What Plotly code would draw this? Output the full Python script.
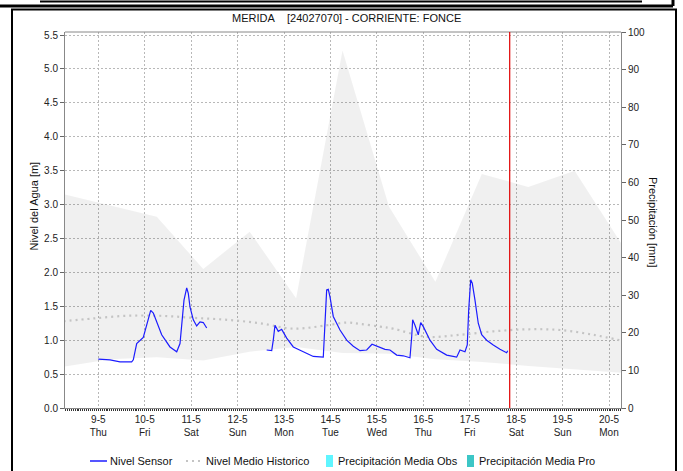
import plotly.graph_objects as go

# ---------------- data ----------------
chart_title = "MERIDA\u00a0\u00a0\u00a0\u00a0[24027070] - CORRIENTE: FONCE"

sensor_time = [
    "2019-05-09 00:00", "2019-05-09 06:03", "2019-05-09 11:13", "2019-05-09 17:15", "2019-05-09 18:05",
    "2019-05-09 19:51", "2019-05-09 23:15", "2019-05-10 01:19", "2019-05-10 03:05", "2019-05-10 04:26",
    "2019-05-10 08:46", "2019-05-10 13:03", "2019-05-10 16:32", "2019-05-10 18:14", "2019-05-10 20:18",
    "2019-05-10 21:42", "2019-05-10 22:31", "2019-05-10 23:24", "2019-05-11 01:06", "2019-05-11 02:51",
    "2019-05-11 04:34", "2019-05-11 06:16", "2019-05-11 08:02",
    "2019-05-12 00:00",
    "2019-05-12 15:02", "2019-05-12 17:38", "2019-05-12 18:27", "2019-05-12 19:20", "2019-05-12 21:02",
    "2019-05-12 22:48", "2019-05-13 01:23", "2019-05-13 04:48", "2019-05-13 09:58", "2019-05-13 15:08",
    "2019-05-13 20:18", "2019-05-13 21:11", "2019-05-13 22:03", "2019-05-13 22:53", "2019-05-13 23:46",
    "2019-05-14 01:28", "2019-05-14 04:56", "2019-05-14 08:24", "2019-05-14 11:48", "2019-05-14 15:16",
    "2019-05-14 18:44", "2019-05-14 21:29", "2019-05-15 01:36", "2019-05-15 04:12", "2019-05-15 06:46",
    "2019-05-15 10:15", "2019-05-15 13:39", "2019-05-15 17:07", "2019-05-15 18:00", "2019-05-15 18:30",
    "2019-05-15 19:42", "2019-05-15 21:24", "2019-05-15 22:39", "2019-05-16 00:00", "2019-05-16 03:27",
    "2019-05-16 06:55", "2019-05-16 12:06", "2019-05-16 17:15", "2019-05-16 18:58", "2019-05-16 21:33",
    "2019-05-16 22:44", "2019-05-16 23:28", "2019-05-17 00:30", "2019-05-17 01:19", "2019-05-17 02:43",
    "2019-05-17 04:25", "2019-05-17 06:11", "2019-05-17 08:46", "2019-05-17 12:10", "2019-05-17 15:38",
    "2019-05-17 19:06", "2019-05-17 19:37",
]
sensor_level = [
    0.72, 0.71, 0.68, 0.68, 0.71,
    0.95, 1.04, 1.25, 1.44, 1.40,
    1.08, 0.90, 0.83, 0.95, 1.59,
    1.77, 1.69, 1.49, 1.30, 1.21,
    1.27, 1.26, 1.18,
    None,
    0.855, 0.845, 1.00, 1.22, 1.13,
    1.16, 1.03, 0.90, 0.83, 0.76,
    0.75, 1.20, 1.74, 1.75, 1.64,
    1.35, 1.15, 1.00, 0.91, 0.845,
    0.855, 0.94, 0.895, 0.865, 0.855,
    0.78, 0.77, 0.74, 1.05, 1.30,
    1.22, 1.08, 1.26, 1.20, 1.00,
    0.865, 0.78, 0.75, 0.855, 0.83,
    0.93, 1.445, 1.89, 1.84, 1.59,
    1.25, 1.08, 1.00, 0.93, 0.865,
    0.815, 0.845,
]

hist_time = [
    "2019-05-08 06:00", "2019-05-08 21:16", "2019-05-09 14:50", "2019-05-10 07:54", "2019-05-11 00:58",
    "2019-05-11 18:32", "2019-05-12 11:35", "2019-05-13 04:39", "2019-05-13 22:14", "2019-05-14 08:34",
    "2019-05-14 15:17", "2019-05-15 01:36", "2019-05-15 08:20", "2019-05-16 01:54", "2019-05-16 18:58",
    "2019-05-17 12:01", "2019-05-18 05:35", "2019-05-18 22:39", "2019-05-19 15:42", "2019-05-20 07:00",
]
hist_level = [
    1.28, 1.32, 1.36, 1.36, 1.33,
    1.30, 1.25, 1.17, 1.22, 1.26,
    1.24, 1.20, 1.17, 1.05, 1.08,
    1.13, 1.16, 1.15, 1.08, 0.99,
]

band_time = [
    "2019-05-08 06:15", "2019-05-09 06:15", "2019-05-10 06:15", "2019-05-11 06:15", "2019-05-12 06:15",
    "2019-05-13 06:15", "2019-05-14 06:15", "2019-05-15 06:15", "2019-05-16 06:15", "2019-05-17 06:15",
    "2019-05-18 06:15", "2019-05-19 06:15", "2019-05-20 06:15",
]
band_low = [0.61, 0.72, 0.75, 0.70, 0.83, 0.90, 0.81, 0.80, 0.72, 0.68, 0.62, 0.57, 0.52]
band_high = [3.15, 2.99, 2.82, 2.05, 2.60, 1.62, 5.27, 2.97, 1.86, 3.45, 3.26, 3.50, 2.43]

precip_obs_time = []
precip_obs = []
precip_pro_time = []
precip_pro = []

tick_dates = ["2019-05-%02d" % d for d in range(9, 21)]
tick_day = ["9-5", "10-5", "11-5", "12-5", "13-5", "14-5", "15-5", "16-5", "17-5", "18-5", "19-5", "20-5"]
tick_weekday = ["Thu", "Fri", "Sat", "Sun", "Mon", "Tue", "Wed", "Thu", "Fri", "Sat", "Sun", "Mon"]
level_ticks = [0.0, 0.5, 1.0, 1.5, 2.0, 2.5, 3.0, 3.5, 4.0, 4.5, 5.0, 5.5]
precip_ticks = [0, 10, 20, 30, 40, 50, 60, 70, 80, 90, 100]

now_time = "2019-05-17 20:40"
x_start = "2019-05-08 06:47"
x_end = "2019-05-20 06:12"

# ---------------- geometry helpers (pixels -> paper) ----------------
PL, PR, PT, PB = 65, 621, 32, 408


def px(x):
    return (x - PL) / (PR - PL)


def py(y):
    return (PB - y) / (PB - PT)


FONT = "Liberation Sans, Arial, sans-serif"
BLUE = "#1c1cff"
HIST = "#c4c4c4"
OBS = "#5ff5ff"
PRO = "#3cc6c6"

fig = go.Figure()

# historical band
fig.add_trace(go.Scatter(x=band_time, y=band_low, mode="lines", line=dict(width=0),
                         showlegend=False, hoverinfo="skip"))
fig.add_trace(go.Scatter(x=band_time, y=band_high, mode="lines", line=dict(width=0),
                         fill="tonexty", fillcolor="rgba(0,0,0,0.058)",
                         showlegend=False, hoverinfo="skip"))

# precipitation bars (no data in this period)
fig.add_trace(go.Bar(x=precip_obs_time, y=precip_obs, name="Precipitación Media Obs",
                     marker_color=OBS, yaxis="y2", showlegend=False))
fig.add_trace(go.Bar(x=precip_pro_time, y=precip_pro, name="Precipitación Media Pro",
                     marker_color=PRO, yaxis="y2", showlegend=False))

# historic mean level
fig.add_trace(go.Scatter(x=hist_time, y=hist_level, mode="lines", name="Nivel Medio Historico",
                         line=dict(color=HIST, width=2.2, dash="2px,4px", shape="spline"),
                         showlegend=False))

# sensor level
fig.add_trace(go.Scatter(x=sensor_time, y=sensor_level, mode="lines", name="Nivel Sensor",
                         line=dict(color=BLUE, width=1.2), connectgaps=False, showlegend=False))

grid_color = "#b8b8b8"

fig.update_layout(
    width=683, height=471,
    margin=dict(l=PL, r=683 - PR, t=PT, b=471 - PB, pad=0),
    paper_bgcolor="white", plot_bgcolor="white",
    font=dict(family=FONT, size=10, color="#222222"),
    showlegend=False,
    bargap=0.2,
    xaxis=dict(
        type="date", range=[x_start, x_end],
        tickmode="array", tickvals=tick_dates,
        ticktext=["%s<br>%s" % (a, b) for a, b in zip(tick_day, tick_weekday)],
        tickfont=dict(size=10, color="#222222"),
        showgrid=True, gridcolor=grid_color, griddash="2px,2px", gridwidth=1,
        ticks="outside", ticklen=2, tickcolor="#333333",
        minor=dict(dtick=3600000, tick0="2019-05-09", ticks="outside", ticklen=2,
                   tickcolor="#333333", tickwidth=1, showgrid=False),
        showline=True, linecolor="#888888", linewidth=1,
        zeroline=False, fixedrange=True,
    ),
    yaxis=dict(
        range=[0, 5.5 * 376 / 373], tickmode="array", tickvals=level_ticks,
        ticktext=["%.1f" % v for v in level_ticks],
        tickfont=dict(size=10, color="#222222"),
        showgrid=True, gridcolor=grid_color, griddash="2px,2px", gridwidth=1,
        ticks="outside", ticklen=4, tickcolor="#666666",
        showline=True, linecolor="#888888", linewidth=1,
        zeroline=False, fixedrange=True,
    ),
    yaxis2=dict(
        range=[0, 100], overlaying="y", side="right", tickmode="array", tickvals=precip_ticks,
        tickfont=dict(size=10, color="#222222"),
        showgrid=False, ticks="outside", ticklen=4, tickcolor="#666666",
        showline=True, linecolor="#888888", linewidth=1, zeroline=False, fixedrange=True,
    ),
)

shapes = []
# plot top border
shapes.append(dict(type="line", xref="paper", yref="paper", x0=0, x1=1, y0=1, y1=1,
                   line=dict(color="#888888", width=1)))
# current time marker
shapes.append(dict(type="line", xref="x", yref="paper", x0=now_time, x1=now_time, y0=0, y1=1,
                   line=dict(color="#e00000", width=1.2)))
# outer frame
shapes.append(dict(type="rect", xref="paper", yref="paper", x0=px(12), x1=px(676), y0=py(480), y1=py(9.5),
                   line=dict(color="black", width=2), layer="below"))
# box above (only its bottom visible)
shapes.append(dict(type="line", xref="paper", yref="paper", x0=px(-2), x1=px(673), y0=py(6), y1=py(6),
                   line=dict(color="black", width=3)))
shapes.append(dict(type="line", xref="paper", yref="paper", x0=px(673), x1=px(673), y0=py(-2), y1=py(6),
                   line=dict(color="black", width=3)))
shapes.append(dict(type="line", xref="paper", yref="paper", x0=px(40), x1=px(642), y0=py(1.5), y1=py(1.5),
                   line=dict(color="black", width=2)))

# legend symbols
LY = 461
shapes.append(dict(type="line", xref="paper", yref="paper", x0=px(90), x1=px(107), y0=py(LY), y1=py(LY),
                   line=dict(color=BLUE, width=1.5)))
shapes.append(dict(type="line", xref="paper", yref="paper", x0=px(186), x1=px(201), y0=py(LY), y1=py(LY),
                   line=dict(color=HIST, width=2, dash="2px,4px")))
shapes.append(dict(type="rect", xref="paper", yref="paper", x0=px(326), x1=px(333), y0=py(467), y1=py(455),
                   line=dict(width=0), fillcolor=OBS))
shapes.append(dict(type="rect", xref="paper", yref="paper", x0=px(467), x1=px(474), y0=py(467), y1=py(455),
                   line=dict(width=0), fillcolor=PRO))
fig.update_layout(shapes=shapes)

ann = []
ann.append(dict(text=chart_title, xref="paper", yref="paper", x=px(346), y=py(18),
                showarrow=False, xanchor="center", yanchor="middle",
                font=dict(family=FONT, size=11, color="#111111")))
ann.append(dict(text="Nivel del Agua [m]", xref="paper", yref="paper", x=px(33.5), y=py(206),
                showarrow=False, textangle=-90, xanchor="center", yanchor="middle",
                font=dict(family=FONT, size=11, color="#111111")))
ann.append(dict(text="Precipitación [mm]", xref="paper", yref="paper", x=px(653), y=py(222),
                showarrow=False, textangle=90, xanchor="center", yanchor="middle",
                font=dict(family=FONT, size=11, color="#111111")))
for label, xpos in [("Nivel Sensor", 108), ("Nivel Medio Historico", 204),
                    ("Precipitación Media Obs", 336), ("Precipitación Media Pro", 477)]:
    ann.append(dict(text=label, xref="paper", yref="paper", x=px(xpos), y=py(LY),
                    showarrow=False, xanchor="left", yanchor="middle",
                    font=dict(family=FONT, size=11, color="#111111")))
fig.update_layout(annotations=ann)

fig.write_html("out.html", config={"displayModeBar": False, "staticPlot": True},
               post_script="document.body.style.margin='0';document.body.style.overflow='hidden';")
